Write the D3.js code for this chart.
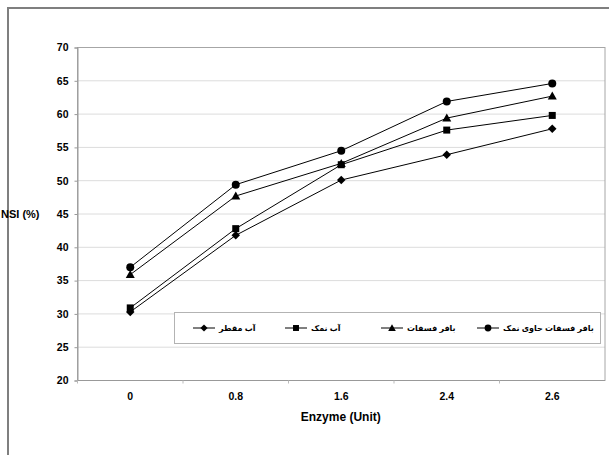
<!DOCTYPE html>
<html>
<head>
<meta charset="utf-8">
<script src="https://cdn.jsdelivr.net/npm/d3@7"></script>
<style>
	body { margin: 0; background: #fff; overflow: hidden; }
	#chart { position: relative; width: 609px; height: 455px; }
	#frame { position: absolute; left: 7px; top: 7px; width: 640px; height: 480px;
	         border: 2px solid #7f7f7f; box-sizing: border-box; }
	svg { display: block; position: absolute; left: 0; top: 0; }
	svg text { font-family: "Liberation Sans", Arial, "DejaVu Sans", sans-serif; }
</style>
</head>
<body>
<div id="chart"><div id="frame"></div></div>
<script>
// categories on the x axis (enzyme units)
var categories = ["0", "0.8", "1.6", "2.4", "2.6"];

// NSI (%) for each extraction medium
var distilledWater = [30.3, 41.8, 50.1, 53.9, 57.8];
var saltWater = [30.9, 42.8, 52.4, 57.6, 59.8];
var phosphateBuffer = [35.9, 47.7, 52.6, 59.4, 62.7];
var saltPhosphateBuffer = [37.0, 49.4, 54.5, 61.9, 64.6];

var seriesNames = ["آب مقطر", "آب نمک", "بافر فسفات", "بافر فسفات حاوی نمک"];
var seriesSymbols = ["diamond", "square", "triangle", "circle"];

var yTicks = [20, 25, 30, 35, 40, 45, 50, 55, 60, 65, 70];

var opts = {
	width: 609,
	height: 455,
	plotLeft: 77.5,
	plotRight: 605,
	plotTop: 47.5,
	plotBottom: 380.5
};

var series = [distilledWater, saltWater, phosphateBuffer, saltPhosphateBuffer].map(function(vals, i) {
	return {name: seriesNames[i], symbol: seriesSymbols[i], values: vals};
});

function drawMarker(sel, symbol)
{
	if (symbol === "diamond") {
		// rotated square, like the spreadsheet diamond
		sel.append("rect")
			.attr("x", -3).attr("y", -3)
			.attr("width", 6).attr("height", 6)
			.attr("transform", "rotate(45)")
			.attr("fill", "#000");
	}
	else if (symbol === "square") {
		sel.append("rect")
			.attr("x", -3.5).attr("y", -3.5)
			.attr("width", 7).attr("height", 7)
			.attr("fill", "#000");
	}
	else if (symbol === "triangle") {
		sel.append("path")
			.attr("d", "M0,-4.5L4.5,3.5L-4.5,3.5Z")
			.attr("fill", "#000");
	}
	else {
		sel.append("circle")
			.attr("r", 4)
			.attr("fill", "#000");
	}
}

var svg = d3.select("#chart").append("svg")
	.attr("width", opts.width)
	.attr("height", opts.height);

var x = d3.scaleBand()
	.domain(categories)
	.range([opts.plotLeft, opts.plotRight]);

var y = d3.scaleLinear()
	.domain([20, 70])
	.range([opts.plotBottom, opts.plotTop]);

// gridlines
svg.append("g")
	.selectAll("line")
	.data(yTicks.slice(1, -1))
	.enter().append("line")
	.attr("x1", opts.plotLeft).attr("x2", opts.plotRight)
	.attr("y1", function(d) { return y(d); })
	.attr("y2", function(d) { return y(d); })
	.attr("stroke", "#dcdcdc")
	.attr("stroke-width", 1);

// plot area border
svg.append("rect")
	.attr("x", opts.plotLeft).attr("y", opts.plotTop)
	.attr("width", opts.plotRight - opts.plotLeft)
	.attr("height", opts.plotBottom - opts.plotTop)
	.attr("fill", "none")
	.attr("stroke", "#a6a6a6")
	.attr("stroke-width", 1);

// y axis
var yAxis = svg.append("g")
	.attr("transform", "translate(" + opts.plotLeft + ",0)")
	.call(d3.axisLeft(y).tickValues(yTicks).tickSize(3).tickPadding(6));
yAxis.select(".domain").attr("stroke", "#999");
yAxis.selectAll(".tick line").attr("stroke", "#999");
yAxis.selectAll("text")
	.attr("font-size", 10.5)
	.attr("font-weight", "bold")
	.attr("fill", "#000");

// x axis, ticks sit between the categories
var xAxisG = svg.append("g")
	.attr("transform", "translate(0," + opts.plotBottom + ")");
xAxisG.append("line")
	.attr("x1", opts.plotLeft).attr("x2", opts.plotRight)
	.attr("stroke", "#999");
xAxisG.selectAll("line.tk")
	.data(categories)
	.enter().append("line")
	.attr("class", "tk")
	.attr("x1", function(d) { return x(d); })
	.attr("x2", function(d) { return x(d); })
	.attr("y1", 0).attr("y2", 3)
	.attr("stroke", "#bbb");
xAxisG.selectAll("text")
	.data(categories)
	.enter().append("text")
	.attr("x", function(d) { return x(d) + x.bandwidth() / 2; })
	.attr("y", 19.5)
	.attr("text-anchor", "middle")
	.attr("font-size", 10.5)
	.attr("font-weight", "bold")
	.text(function(d) { return d; });

// axis titles
svg.append("text")
	.attr("x", (opts.plotLeft + opts.plotRight) / 2 - 0.5)
	.attr("y", 421)
	.attr("text-anchor", "middle")
	.attr("font-size", 12)
	.attr("font-weight", "bold")
	.text("Enzyme (Unit)");

svg.append("text")
	.attr("x", 1)
	.attr("y", 218)
	.attr("font-size", 11)
	.attr("font-weight", "bold")
	.text("NSI (%)");

// series lines and markers
var line = d3.line()
	.x(function(d, i) { return x(categories[i]) + x.bandwidth() / 2; })
	.y(function(d) { return y(d); });

series.forEach(function(s) {
	svg.append("path")
		.datum(s.values)
		.attr("d", line)
		.attr("fill", "none")
		.attr("stroke", "#000")
		.attr("stroke-width", 1);

	svg.append("g")
		.selectAll("g")
		.data(s.values)
		.enter().append("g")
		.attr("transform", function(d, i) {
			return "translate(" + (x(categories[i]) + x.bandwidth() / 2) + "," + y(d) + ")";
		})
		.each(function() { drawMarker(d3.select(this), s.symbol); });
});

// legend
var legend = svg.append("g");
legend.append("rect")
	.attr("x", 174.5).attr("y", 312.5)
	.attr("width", 426).attr("height", 31)
	.attr("fill", "#fff")
	.attr("stroke", "#b3b3b3")
	.attr("stroke-width", 1);

var legendX = [193, 285, 381, 477];
series.forEach(function(s, i) {
	var g = legend.append("g")
		.attr("transform", "translate(" + legendX[i] + ",328)");
	g.append("line")
		.attr("x1", 0).attr("x2", 22)
		.attr("stroke", "#000");
	drawMarker(g.append("g").attr("transform", "translate(11,0) scale(0.85)"), s.symbol);
	g.append("text")
		.attr("x", 26)
		.attr("y", 3)
		.attr("font-size", 8)
		.attr("font-weight", "bold")
		.attr("direction", "ltr")
		.text(s.name);
});
</script>
</body>
</html>
